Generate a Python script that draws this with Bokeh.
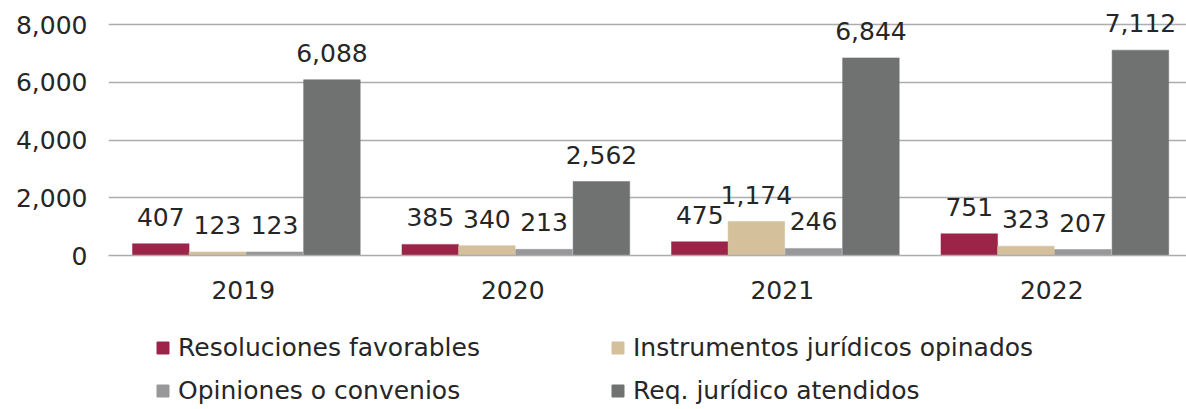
from bokeh.plotting import figure
from bokeh.layouts import column
from bokeh.models import (ColumnDataSource, FactorRange, Range1d, Legend, LegendItem,
                          NumeralTickFormatter, FixedTicker, LabelSet)
from bokeh.transform import dodge
from bokeh.core.properties import value
from bokeh.embed import file_html
from bokeh.resources import INLINE

years = ["2019", "2020", "2021", "2022"]
resoluciones = [407, 385, 475, 751]
instrumentos = [123, 340, 1174, 323]
opiniones = [123, 213, 246, 207]
requerimientos = [6088, 2562, 6844, 7112]
series_names = ["Resoluciones favorables", "Instrumentos jurídicos opinados",
                "Opiniones o convenios", "Req. jurídico atendidos"]
y_ticks = [0, 2000, 4000, 6000, 8000]

series_values = [resoluciones, instrumentos, opiniones, requerimientos]
colors = ["#9D2449", "#D4C19C", "#98989A", "#6F7271"]
offsets = [-0.306, -0.096, 0.116, 0.329]
FONT = "DejaVu Sans"
FS = "25px"
TXT = "#262626"
GRID = "#ADADAD"
W = 1186

# frame spans the top of the figure down to the zero line (pixel 255); the 8,000
# gridline sits at pixel 24, the space above it keeps the value labels unclipped
FRAME_BOTTOM = 255
TOP_GRID = 24
y_top = y_ticks[-1] * FRAME_BOTTOM / (FRAME_BOTTOM - TOP_GRID)

p = figure(width=W, height=318, x_range=FactorRange(*years, range_padding=0),
           y_range=Range1d(0, y_top), output_backend="svg", toolbar_location=None,
           min_border_left=108, min_border_right=0, min_border_top=0,
           min_border_bottom=318 - FRAME_BOTTOM)
p.outline_line_color = None

src = ColumnDataSource(dict(years=years,
                            s0=resoluciones, s1=instrumentos, s2=opiniones, s3=requerimientos,
                            t0=[f"{v:,}" for v in resoluciones],
                            t1=[f"{v:,}" for v in instrumentos],
                            t2=[f"{v:,}" for v in opiniones],
                            t3=[f"{v:,}" for v in requerimientos]))

for i, name in enumerate(series_names):
    p.vbar(x=dodge("years", offsets[i], range=p.x_range), top=f"s{i}", width=0.21,
           source=src, fill_color=colors[i], line_color=colors[i], line_width=0.5)
    lab = LabelSet(x=dodge("years", offsets[i], range=p.x_range), y=f"s{i}", text=f"t{i}",
                   source=src, text_align="center", text_baseline="bottom", y_offset=18,
                   text_font=value(FONT), text_font_size=value(FS), text_color=TXT)
    p.add_layout(lab)

p.yaxis.ticker = FixedTicker(ticks=y_ticks)
p.yaxis.formatter = NumeralTickFormatter(format="0,0")
p.yaxis.axis_line_color = None
p.yaxis.major_tick_line_color = None
p.yaxis.minor_tick_line_color = None
p.yaxis.major_label_standoff = 15
p.xaxis.axis_line_color = GRID
p.xaxis.axis_line_width = 1.5
p.xaxis.major_tick_line_color = None
p.xaxis.minor_tick_line_color = None
p.xaxis.major_label_standoff = 19
for ax in (p.xaxis, p.yaxis):
    ax.major_label_text_font = FONT
    ax.major_label_text_font_size = FS
    ax.major_label_text_color = TXT
p.xgrid.grid_line_color = None
p.ygrid.grid_line_color = GRID
p.ygrid.grid_line_width = 1.5

# legend in its own strip below the chart
lg = figure(width=W, height=91, x_range=Range1d(0, 1), y_range=Range1d(0, 1),
            output_backend="svg", toolbar_location=None,
            x_axis_location=None, y_axis_location=None,
            min_border_left=0, min_border_right=0, min_border_top=0, min_border_bottom=0)
lg.outline_line_color = None
lg.xgrid.grid_line_color = None
lg.ygrid.grid_line_color = None
items = []
for i, name in enumerate(series_names):
    # legend swatch renderers: kept outside the visible range of the strip
    r = lg.vbar(x=[-5], top=[-5], bottom=[-6], width=0.1,
                fill_color=colors[i], line_color=colors[i])
    items.append(LegendItem(label=name, renderers=[r]))

# column-major order: col 1 = Resoluciones, Opiniones; col 2 = Instrumentos, Req.
legend_items = [items[0], items[2], items[1], items[3]]
legend = Legend(items=legend_items, ncols=2, location=(47, 4),
                label_text_font=FONT, label_text_font_size=FS, label_text_color=TXT,
                glyph_width=15, glyph_height=15, label_standoff=8, label_width=418,
                label_height=24, spacing=14, padding=0, margin=0,
                border_line_color=None, background_fill_alpha=0)
lg.add_layout(legend)

layout = column(p, lg, spacing=0)
open("out.html", "w").write(file_html(layout, INLINE))
